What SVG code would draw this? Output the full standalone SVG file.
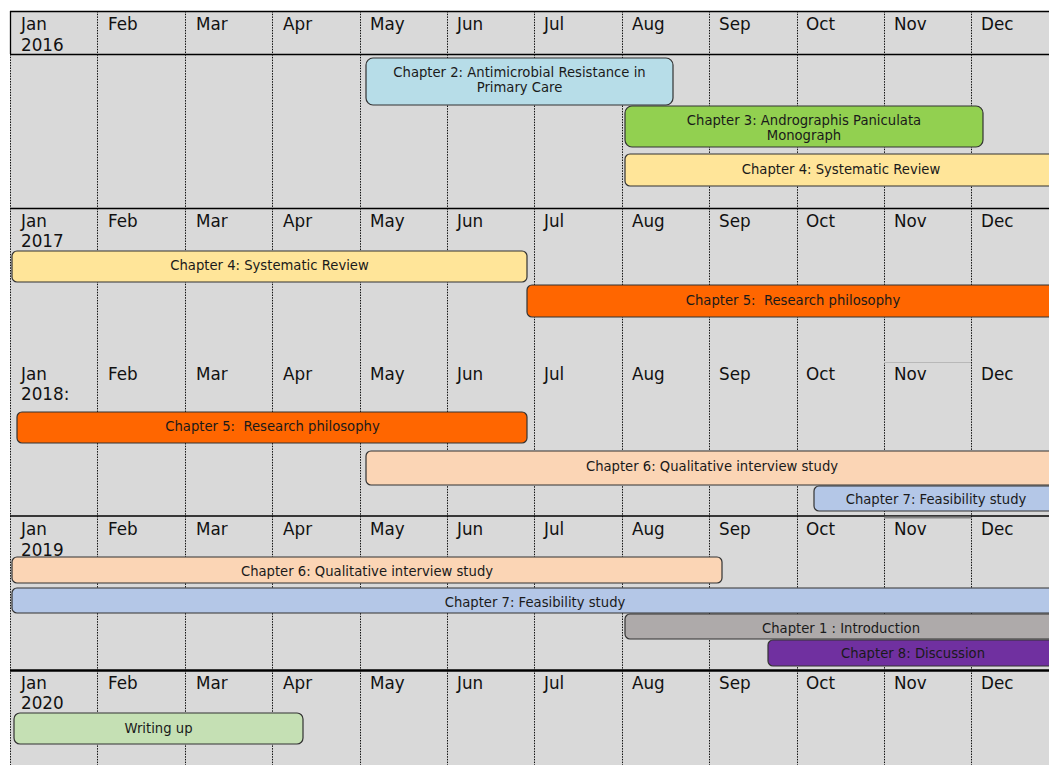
<svg xmlns="http://www.w3.org/2000/svg" width="1049" height="765" viewBox="0 0 1049 765">
<style>
.m{font-family:"DejaVu Sans","Open Sans",sans-serif;font-size:16.8px;fill:#111}
.t{font-family:"DejaVu Sans","Open Sans",sans-serif;font-size:13.2px;fill:#1a1a1a;text-anchor:middle}
.v{stroke:#111;stroke-width:1;stroke-dasharray:1.5 1.2}
.h{stroke:#000;stroke-width:1.3}
.b{stroke:#333;stroke-width:1.2}
</style>
<rect width="1049" height="765" fill="#fff"/>
<rect x="10" y="11" width="1039" height="754" fill="#d9d9d9"/>
<g id="grid">
<g class="v">
<line x1="10.5" y1="54" x2="10.5" y2="765"/>
<line x1="97.5" y1="11" x2="97.5" y2="765"/>
<line x1="185.5" y1="11" x2="185.5" y2="765"/>
<line x1="272.5" y1="11" x2="272.5" y2="765"/>
<line x1="360.5" y1="11" x2="360.5" y2="765"/>
<line x1="447.5" y1="11" x2="447.5" y2="765"/>
<line x1="534.5" y1="11" x2="534.5" y2="765"/>
<line x1="622.5" y1="11" x2="622.5" y2="765"/>
<line x1="709.5" y1="11" x2="709.5" y2="765"/>
<line x1="797.5" y1="11" x2="797.5" y2="765"/>
<line x1="884.5" y1="11" x2="884.5" y2="765"/>
<line x1="971.5" y1="11" x2="971.5" y2="765"/>
</g>
<line class="h" x1="10" y1="11.5" x2="1049" y2="11.5"/>
<line class="h" x1="10.5" y1="11" x2="10.5" y2="54"/>
<line class="h" x1="10" y1="54.5" x2="1049" y2="54.5"/>
<line class="h" x1="10" y1="208.5" x2="1049" y2="208.5"/>
<line x1="884" y1="362.5" x2="971" y2="362.5" stroke="#b8b8b8" stroke-width="1"/>
<line x1="10" y1="516" x2="1049" y2="516" stroke="#000" stroke-width="1.6"/>
<line x1="884" y1="517.5" x2="971" y2="517.5" stroke="#888" stroke-width="2"/>
<line x1="10" y1="670.5" x2="1049" y2="670.5" stroke="#000" stroke-width="2.5"/>
</g>
<g id="labels2016">
<text class="m" x="21" y="30">Jan</text><text class="m" x="21" y="51">2016</text>
<text class="m" x="108" y="30">Feb</text><text class="m" x="196" y="30">Mar</text><text class="m" x="283" y="30">Apr</text>
<text class="m" x="370" y="30">May</text><text class="m" x="457" y="30">Jun</text><text class="m" x="544" y="30">Jul</text>
<text class="m" x="632" y="30">Aug</text><text class="m" x="719" y="30">Sep</text><text class="m" x="806" y="30">Oct</text>
<text class="m" x="894" y="30">Nov</text><text class="m" x="981" y="30">Dec</text>
</g>
<g id="labels2017">
<text class="m" x="21" y="227">Jan</text><text class="m" x="21" y="247">2017</text>
<text class="m" x="108" y="227">Feb</text><text class="m" x="196" y="227">Mar</text><text class="m" x="283" y="227">Apr</text>
<text class="m" x="370" y="227">May</text><text class="m" x="457" y="227">Jun</text><text class="m" x="544" y="227">Jul</text>
<text class="m" x="632" y="227">Aug</text><text class="m" x="719" y="227">Sep</text><text class="m" x="806" y="227">Oct</text>
<text class="m" x="894" y="227">Nov</text><text class="m" x="981" y="227">Dec</text>
</g>
<g id="labels2018">
<text class="m" x="21" y="380">Jan</text><text class="m" x="21" y="400">2018:</text>
<text class="m" x="108" y="380">Feb</text><text class="m" x="196" y="380">Mar</text><text class="m" x="283" y="380">Apr</text>
<text class="m" x="370" y="380">May</text><text class="m" x="457" y="380">Jun</text><text class="m" x="544" y="380">Jul</text>
<text class="m" x="632" y="380">Aug</text><text class="m" x="719" y="380">Sep</text><text class="m" x="806" y="380">Oct</text>
<text class="m" x="894" y="380">Nov</text><text class="m" x="981" y="380">Dec</text>
</g>
<g id="labels2019">
<text class="m" x="21" y="535">Jan</text><text class="m" x="21" y="556">2019</text>
<text class="m" x="108" y="535">Feb</text><text class="m" x="196" y="535">Mar</text><text class="m" x="283" y="535">Apr</text>
<text class="m" x="370" y="535">May</text><text class="m" x="457" y="535">Jun</text><text class="m" x="544" y="535">Jul</text>
<text class="m" x="632" y="535">Aug</text><text class="m" x="719" y="535">Sep</text><text class="m" x="806" y="535">Oct</text>
<text class="m" x="894" y="535">Nov</text><text class="m" x="981" y="535">Dec</text>
</g>
<g id="labels2020">
<text class="m" x="21" y="689">Jan</text><text class="m" x="21" y="709">2020</text>
<text class="m" x="108" y="689">Feb</text><text class="m" x="196" y="689">Mar</text><text class="m" x="283" y="689">Apr</text>
<text class="m" x="370" y="689">May</text><text class="m" x="457" y="689">Jun</text><text class="m" x="544" y="689">Jul</text>
<text class="m" x="632" y="689">Aug</text><text class="m" x="719" y="689">Sep</text><text class="m" x="806" y="689">Oct</text>
<text class="m" x="894" y="689">Nov</text><text class="m" x="981" y="689">Dec</text>
</g>
<g id="connectors"/>
<g id="ch2-2016">
<rect class="b" x="366" y="58" width="307" height="47" rx="7" fill="#b7dde8"/>
<text class="t" x="519.5" y="77">Chapter 2: Antimicrobial Resistance in</text>
<text class="t" x="519.5" y="92">Primary Care</text>
</g>
<g id="ch3-2016">
<rect class="b" x="625" y="106" width="358" height="41" rx="7" fill="#92d050"/>
<text class="t" x="804" y="125">Chapter 3: Andrographis Paniculata</text>
<text class="t" x="804" y="140">Monograph</text>
</g>
<g id="ch4-2016">
<rect class="b" x="625" y="154" width="440" height="32" rx="5" fill="#ffe599"/>
<text class="t" x="841" y="174">Chapter 4: Systematic Review</text>
</g>
<g id="ch4-2017">
<rect class="b" x="12" y="251" width="515" height="31" rx="5" fill="#ffe599"/>
<text class="t" x="269.5" y="270">Chapter 4: Systematic Review</text>
</g>
<g id="ch5-2017">
<rect class="b" x="527" y="285" width="540" height="32" rx="5" fill="#ff6600"/>
<text class="t" x="793" y="305" xml:space="preserve">Chapter 5:  Research philosophy</text>
</g>
<g id="ch5-2018">
<rect class="b" x="17" y="412" width="510" height="31" rx="5" fill="#ff6600"/>
<text class="t" x="272.5" y="431" xml:space="preserve">Chapter 5:  Research philosophy</text>
</g>
<g id="ch6-2018">
<rect class="b" x="366" y="451" width="700" height="34" rx="5" fill="#fbd5b5"/>
<text class="t" x="712" y="471">Chapter 6: Qualitative interview study</text>
</g>
<g id="ch7-2018">
<rect class="b" x="814" y="486" width="250" height="25" rx="5" fill="#b4c7e7"/>
<text class="t" x="936" y="504">Chapter 7: Feasibility study</text>
</g>
<g id="ch6-2019">
<rect class="b" x="12" y="557" width="710" height="26" rx="5" fill="#fbd5b5"/>
<text class="t" x="367" y="576">Chapter 6: Qualitative interview study</text>
</g>
<g id="ch7-2019">
<rect class="b" x="12" y="588" width="1055" height="25" rx="5" fill="#b4c7e7"/>
<text class="t" x="535" y="607">Chapter 7: Feasibility study</text>
</g>
<g id="ch1-2019">
<rect class="b" x="625" y="614" width="440" height="25" rx="5" fill="#aeaaaa"/>
<text class="t" x="841" y="633">Chapter 1 : Introduction</text>
</g>
<g id="ch8-2019">
<rect class="b" x="768" y="640" width="290" height="26" rx="5" fill="#7030a0"/>
<text class="t" x="913" y="658">Chapter 8: Discussion</text>
</g>
<g id="writing-2020">
<rect class="b" x="14" y="713" width="289" height="31" rx="6" fill="#c5e0b4"/>
<text class="t" x="158.5" y="733">Writing up</text>
</g>
</svg>
